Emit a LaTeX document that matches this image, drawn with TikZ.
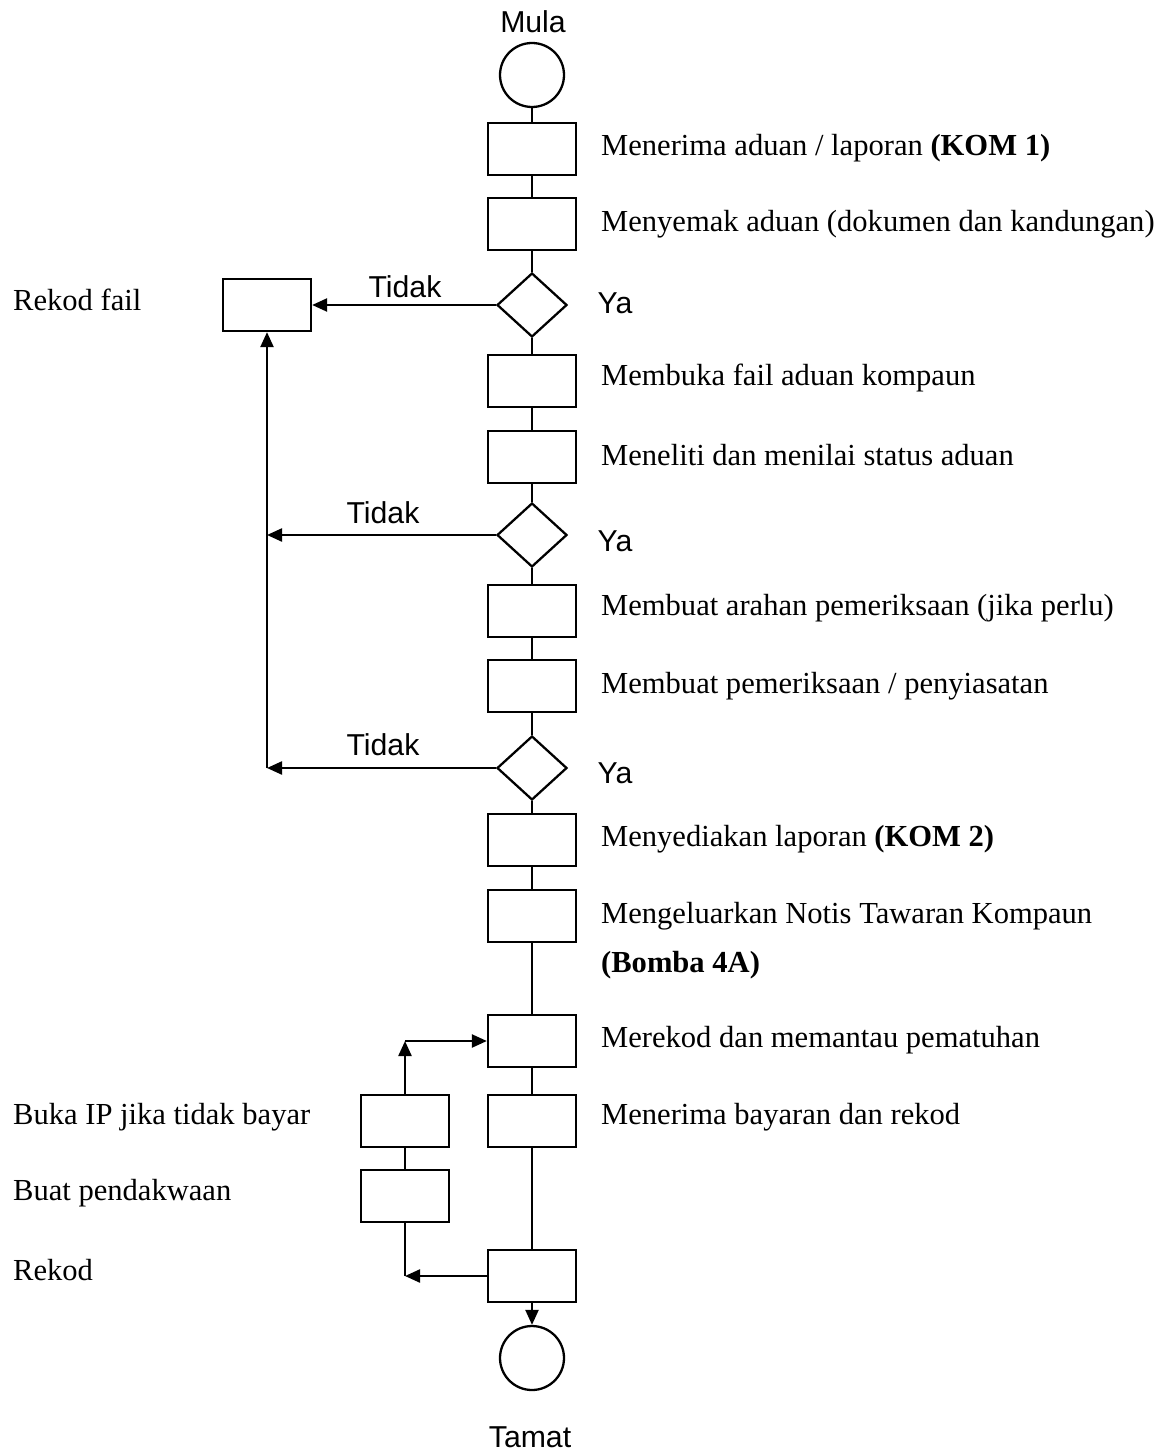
\documentclass[tikz,border=0pt]{standalone}
\usepackage{fontspec}
\setmainfont{Liberation Serif}
\setsansfont{Liberation Sans}
\usetikzlibrary{arrows.meta,shapes.geometric}

\begin{document}
\begin{tikzpicture}[x=0.02cm,y=-0.02cm,line width=1.3pt,
  stepbox/.style={draw,rectangle,minimum width=1.76cm,minimum height=1.04cm,inner sep=0pt},
  term/.style={draw,circle,minimum size=1.28cm,inner sep=0pt},
  decide/.style={draw,diamond,minimum width=1.4cm,minimum height=1.28cm,inner sep=0pt},
  lbl/.style={anchor=west,inner sep=0pt,font=\fontsize{17.4pt}{20pt}\selectfont},
  sflbl/.style={inner sep=0pt,font=\sffamily\fontsize{17.2pt}{20pt}\selectfont},
  arr/.style={-{Triangle[length=0.3cm,width=0.26cm]}}]

\useasboundingbox (0,0) rectangle (1163,1452);

% start
\node[sflbl] (mula) at (533,22) {Mula};
\node[term] (start) at (532,75) {};

% main column
\node[stepbox] (terima) at (532,149) {};
\node[stepbox] (semak) at (532,224) {};
\node[decide] (q1) at (532,305) {};
\node[stepbox] (buka) at (532,381) {};
\node[stepbox] (teliti) at (532,457) {};
\node[decide] (q2) at (532,535) {};
\node[stepbox] (arahan) at (532,611) {};
\node[stepbox] (periksa) at (532,686) {};
\node[decide] (q3) at (532,768) {};
\node[stepbox] (lapor) at (532,840) {};
\node[stepbox] (notis) at (532,916) {};
\node[stepbox] (pantau) at (532,1041) {};
\node[stepbox] (bayar) at (532,1121) {};
\node[stepbox] (rekod) at (532,1276) {};
\node[term] (end) at (532,1358) {};
\node[sflbl] (tamat) at (530,1437) {Tamat};

% side boxes
\node[stepbox] (fail) at (267,305) {};
\node[stepbox] (ip) at (405,1121) {};
\node[stepbox] (dakwa) at (405,1196) {};

% junctions
\coordinate (j2) at (267,535);
\coordinate (j3) at (267,768);
\coordinate (c1) at (405,1041);
\coordinate (c2) at (405,1276);

% main flow
\draw (start) -- (terima) -- (semak) -- (q1) -- (buka) -- (teliti) -- (q2)
  -- (arahan) -- (periksa) -- (q3) -- (lapor) -- (notis) -- (pantau)
  -- (bayar) -- (rekod);
\draw[arr] (rekod) -- (end);

% tidak branches
\draw[arr] (q1.west) -- (fail.east);
\draw[arr] (q2.west) -- (j2);
\draw[arr] (q3.west) -- (j3);
\draw[arr] (j3) -- (fail.south);
\node[sflbl] (t1) at (405,287) {Tidak};
\node[sflbl] (t2) at (383,513) {Tidak};
\node[sflbl] (t3) at (383,745) {Tidak};
\node[sflbl] (y1) at (615,303) {Ya};
\node[sflbl] (y2) at (615,541) {Ya};
\node[sflbl] (y3) at (615,773) {Ya};

% bottom loop
\draw[arr] (rekod.west) -- (c2);
\draw (c2) -- (dakwa) -- (ip);
\draw[arr] (ip.north) -- (c1);
\draw[arr] (c1) -- (pantau.west);

% right labels
\node[lbl] (l1) at (600,148) {Menerima aduan / laporan \textbf{(KOM 1)}};
\node[lbl] (l2) at (600,224) {Menyemak aduan (dokumen dan kandungan)};
\node[lbl] (l3) at (600,378) {Membuka fail aduan kompaun};
\node[lbl] (l4) at (600,455) {Meneliti dan menilai status aduan};
\node[lbl] (l5) at (600,608) {Membuat arahan pemeriksaan (jika perlu)};
\node[lbl] (l6) at (600,686) {Membuat pemeriksaan / penyiasatan};
\node[lbl] (l7) at (600,839) {Menyediakan laporan \textbf{(KOM 2)}};
\node[lbl] (l8) at (600,916) {Mengeluarkan Notis Tawaran Kompaun};
\node[lbl] (l8b) at (600,965) {\textbf{(Bomba 4A)}};
\node[lbl] (l9) at (600,1040) {Merekod dan memantau pematuhan};
\node[lbl] (l10) at (600,1117) {Menerima bayaran dan rekod};

% left labels
\node[lbl] (r1) at (12,300) {Rekod fail};
\node[lbl] (r2) at (12,1117) {Buka IP jika tidak bayar};
\node[lbl] (r3) at (12,1193) {Buat pendakwaan};
\node[lbl] (r4) at (12,1270) {Rekod};
\end{tikzpicture}
\end{document}
